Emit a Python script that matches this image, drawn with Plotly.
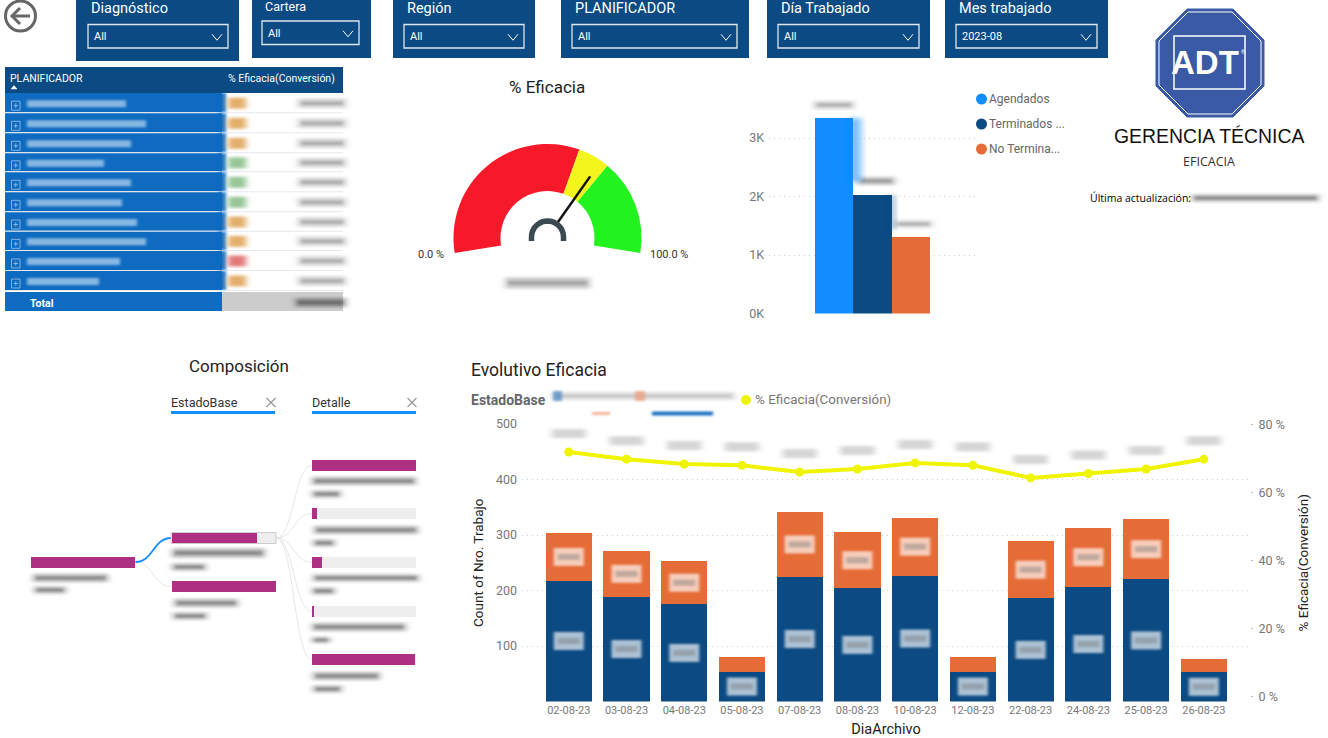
import math
import plotly.graph_objects as go

W, H = 1328, 738
FONT = "Roboto"
NAVY = "#0B4A82"
ORANGE = "#E66C37"
SKY = "#118DFF"
ROYAL = "#0F6BBF"
MAGENTA = "#AD3082"
YELLOW = "#EFF500"

# ---------- data ----------
days = ["02-08-23", "03-08-23", "04-08-23", "05-08-23", "07-08-23", "08-08-23",
        "10-08-23", "12-08-23", "22-08-23", "24-08-23", "25-08-23", "26-08-23"]
terminados = [218, 189, 175, 54, 225, 204, 227, 54, 186, 207, 220, 53]
no_terminados = [85, 82, 78, 27, 116, 101, 104, 27, 103, 106, 109, 23]
eficacia = [71.9, 69.8, 68.4, 68.0, 66.0, 66.9, 68.7, 68.0, 64.3, 65.6, 66.9, 69.8]

col_names = ["Agendados", "Terminados ...", "No Termina..."]
col_values = [3340, 2020, 1305]
col_ticks = [0, 1000, 2000, 3000]
col_ticktext = ["0K", "1K", "2K", "3K"]

gauge_bands = [60, 10, 30]
gauge_value = 67.5

tree_col0 = [100]
tree_col1 = [82, 100]
tree_col2 = [100, 5, 9.6, 1, 99]

table_status = ["o", "o", "o", "g", "g", "g", "o", "o", "r", "o"]
table_name_len = [100, 120, 105, 78, 105, 96, 111, 120, 94, 73]

filters = [("Diagnóstico", "All"), ("Cartera", "All"), ("Región", "All"),
           ("PLANIFICADOR", "All"), ("Día Trabajado", "All"), ("Mes trabajado", "2023-08")]

# ---------- helpers ----------
def X(p): return p / W
def Y(p): return 1 - p / H

shapes, notes = [], []

# Shape opacities carry a marker in their 4th decimal; the page script turns it into an SVG blur.
def soft(a, level=1):
    return round(a, 2) + {1: 0.0007, 2: 0.0003, 3: 0.0005}[level]

def rect(x0, y0, x1, y1, fill, line=None, lw=0, op=None):
    s = dict(type="rect", xref="paper", yref="paper", x0=X(x0), x1=X(x1), y0=Y(y0), y1=Y(y1),
             fillcolor=fill, line=dict(color=line or "rgba(0,0,0,0)", width=lw))
    if op is not None:
        s["opacity"] = op
    shapes.append(s)

def path(points, line=None, lw=1, fill=None, close=False):
    d = "M " + " L ".join(f"{X(a):.5f},{Y(b):.5f}" for a, b in points) + (" Z" if close else "")
    shapes.append(dict(type="path", xref="paper", yref="paper", path=d,
                       line=dict(color=line or "rgba(0,0,0,0)", width=lw),
                       fillcolor=fill or "rgba(0,0,0,0)"))

def curve(x0, y0, x1, y1, color="#E9E9E9", lw=1):
    mx = (x0 + x1) / 2
    d = (f"M {X(x0):.5f},{Y(y0):.5f} C {X(mx):.5f},{Y(y0):.5f} "
         f"{X(mx):.5f},{Y(y1):.5f} {X(x1):.5f},{Y(y1):.5f}")
    shapes.append(dict(type="path", xref="paper", yref="paper", path=d,
                       line=dict(color=color, width=lw)))

def text(x, y, s, size=12, color="#333", anchor="left", bold=False, font=FONT, angle=0):
    notes.append(dict(xref="paper", yref="paper", x=X(x), y=Y(y), text=f"<b>{s}</b>" if bold else s,
                      showarrow=False, xanchor=anchor, yanchor="middle", textangle=angle,
                      font=dict(family=font, size=size, color=color)))

def smear(x0, x1, yc, h=9, color="#707070", op=0.3):
    rect(x0, yc - h / 2, x1, yc + h / 2, color, op=soft(op))
    rect(x0 + 3, yc - h * 0.14, x1 - 3, yc + h * 0.14, color, op=soft(min(op * 1.3, 0.95), 2))

def chip(cat, val, yref):
    shapes.append(dict(type="rect", xref="x", yref=yref, xsizemode="pixel", ysizemode="pixel",
                       xanchor=cat, yanchor=val, x0=-15, x1=15, y0=-9, y1=9,
                       fillcolor="#FFFFFF", opacity=soft(0.66, 2), line=dict(width=0)))
    shapes.append(dict(type="rect", xref="x", yref=yref, xsizemode="pixel", ysizemode="pixel",
                       xanchor=cat, yanchor=val, x0=-11, x1=11, y0=-3, y1=3,
                       fillcolor="#777777", opacity=soft(0.42, 2), line=dict(width=0)))

fig = go.Figure()

# ---------- filter cards ----------
cards = [(76, 239, 61, 88, 228, 24.5, 48, 14.5),
         (252, 371, 58, 262, 359, 21, 44.5, 12.5),
         (393, 535, 58, 404, 524, 24.5, 48, 14.5),
         (561, 749, 58, 572, 737, 24.5, 48, 14.5),
         (767, 930, 58, 778, 919, 24.5, 48, 14.5),
         (945, 1108, 58, 956, 1097, 24.5, 48, 14.5)]
for (name, val), (x0, x1, b, bx0, bx1, by0, by1, fs) in zip(filters, cards):
    rect(x0, 0, x1, b, NAVY)
    rect(bx0, by0, bx1, by1, NAVY, "#DDE6F0", 1.3)
    text(bx0 + 1, by0 - 16 if fs > 13 else by0 - 14, name, fs, "#FFFFFF")
    text(bx0 + 4, (by0 + by1) / 2 + 0.5, val, 11, "#FFFFFF")
    cx, cy = bx1 - 11, (by0 + by1) / 2 + 1
    path([(cx - 5, cy - 3), (cx, cy + 3), (cx + 5, cy - 3)], "#FFFFFF", 1)

# back arrow
shapes.append(dict(type="circle", xref="paper", yref="paper", x0=X(5.5), x1=X(35.5), y0=Y(31), y1=Y(1),
                   line=dict(color="#666666", width=3), fillcolor="rgba(0,0,0,0)"))
path([(30, 16), (12, 16)], "#666666", 3)
path([(20, 8), (12, 16), (20, 24)], "#666666", 3)

# ---------- table ----------
rect(5, 67, 343, 93, NAVY)
text(8, 78, "PLANIFICADOR", 10.5, "#FFFFFF")
text(337, 78, "% Eficacia(Conversión)", 10.5, "#FFFFFF", anchor="right")
path([(11, 89), (14, 85.5), (17, 89)], "#FFFFFF", 0.5, "#FFFFFF", True)
row_edges = [93, 113.3, 133.3, 153.3, 172.3, 192.3, 212.3, 231.7, 251, 271, 291]
status_col = {"o": "#E0A65A", "g": "#8CBF8C", "r": "#E06A6A"}
for i, (st, ln) in enumerate(zip(table_status, table_name_len)):
    y0, y1 = row_edges[i], row_edges[i + 1]
    yc = (y0 + y1) / 2
    rect(5, y0, 222, y1 - 1, ROYAL)
    rect(218, y0, 226, y1 - 1, ROYAL, op=soft(0.9, 2))
    rect(5, y1 - 1, 343, y1, "#E4E8EE")
    rect(27, yc - 3, 26 + ln, yc + 4, "#D6E8FA", op=soft(0.6, 2))
    rect(228, yc - 5.5, 246, yc + 5.5, status_col[st], op=soft(0.9))
    smear(298, 346, yc, 9, "#777777", 0.35)
    rect(11.5, yc - 2, 20, yc + 7, "rgba(0,0,0,0)", "#9CC3E8", 0.8)
    path([(13.5, yc + 2.5), (18, yc + 2.5)], "#9CC3E8", 0.8)
    path([(15.75, yc + 0.2), (15.75, yc + 4.8)], "#9CC3E8", 0.8)
rect(5, 292, 222, 311, ROYAL)
rect(222, 292, 343, 311, "#CCCCCC")
text(28, 303, "Total", 10.5, "#FFFFFF", bold=True)
smear(295, 346, 302.5, 9, "#555555", 0.55)

# ---------- gauge ----------
text(547, 87, "% Eficacia", 17, "#222222", anchor="center")
GCX, GCY, GR = 547.5, 238.0, 94.0
SPAN = 198.4
hidden = 100 * (360 - SPAN) / SPAN
fig.add_trace(go.Pie(values=gauge_bands + [hidden], sort=False, direction="clockwise",
                     rotation=-SPAN / 2, hole=0.5, textinfo="none", hoverinfo="skip",
                     showlegend=False,
                     marker=dict(colors=["#F5192A", "#F5F51E", "#22F21E", "rgba(0,0,0,0)"],
                                 line=dict(width=0)),
                     domain=dict(x=[X(GCX - GR), X(GCX + GR)], y=[Y(GCY + GR), Y(GCY - GR)])))
ang = math.radians(-SPAN / 2 + SPAN * gauge_value / 100)
path([(GCX + 15 * math.sin(ang), GCY - 1 - 15 * math.cos(ang)),
      (GCX + 75 * math.sin(ang), GCY - 75 * math.cos(ang))], "#111111", 2.5)
hub = [(GCX - 16, GCY + 3)] + [(GCX + 16 * math.sin(math.radians(a)), GCY - 1 - 16 * math.cos(math.radians(a)))
       for a in range(-90, 91, 10)] + [(GCX + 16, GCY + 3)]
path(hub, "#3B4A52", 5.5)
text(431, 254, "0.0 %", 11, "#333333", anchor="center")
text(669, 254, "100.0 %", 11, "#333333", anchor="center")
smear(505, 590, 283, 11, "#777777", 0.4)

# ---------- three-bar chart ----------
cdom = (769, 976)
fig.add_trace(go.Bar(x=col_names, y=col_values, width=1, marker=dict(color=[SKY, NAVY, ORANGE], line=dict(width=0)),
                     xaxis="x2", yaxis="y3", showlegend=False, hoverinfo="skip"))
smear(814, 854, 105, 8, "#888888", 0.4)
smear(858, 895, 181, 8, "#777777", 0.45)
smear(895, 932, 224, 7, "#888888", 0.4)
rect(850, 118, 860, 182, SKY, op=soft(0.7, 3))
rect(888, 195, 894, 230, NAVY, op=soft(0.5, 3))
for (n, yy, c) in zip(col_names, [99, 124, 149], [SKY, NAVY, ORANGE]):
    shapes.append(dict(type="circle", xref="paper", yref="paper", x0=X(976), x1=X(987), y0=Y(yy + 5.5),
                       y1=Y(yy - 5.5), fillcolor=c, line=dict(width=0)))
    text(987, yy, n, 12, "#666666")

# ---------- logo ----------
LOGO = "#3A5AA6"
def octagon(x0, x1, y0, y1, cut):
    return [(x0 + cut, y0), (x1 - cut, y0), (x1, y0 + cut), (x1, y1 - cut),
            (x1 - cut, y1), (x0 + cut, y1), (x0, y1 - cut), (x0, y0 + cut)]
path(octagon(1156, 1264, 9, 117, 31), LOGO, 1, LOGO, True)
path(octagon(1159, 1261, 12, 114, 29), "#FFFFFF", 1, LOGO, True)
rect(1174, 36, 1245, 89, "rgba(0,0,0,0)", "#FFFFFF", 1.5)
text(1205, 62, "ADT", 33, "#FFFFFF", anchor="center", bold=True, font="Liberation Sans")
text(1243, 52, "®", 5, "#FFFFFF", anchor="center")
text(1209, 136, "GERENCIA TÉCNICA", 19.4, "#111111", anchor="center", font="Liberation Sans")
text(1209, 162, "EFICACIA", 12.5, "#333333", anchor="center", font="Open Sans")
text(1087.5, 198, "Última actualización:", 10.5, "#000000", font="Open Sans")
smear(1192, 1319, 198, 7, "#666666", 0.5)

# ---------- decomposition tree ----------
text(238.5, 366, "Composición", 17, "#222222", anchor="center")
for x0, x1, name in [(171, 275, "EstadoBase"), (312, 416, "Detalle")]:
    text(x0 - 2, 402, name, 12.5, "#333333", bold=False)
    rect(x0, 411, x1, 414, SKY)
    xc = x1 - 4
    path([(xc - 4.5, 398), (xc + 4.5, 407)], "#999999", 1.2)
    path([(xc - 4.5, 407), (xc + 4.5, 398)], "#999999", 1.2)

c1_y = [538, 586.5]
c2_y = [465.5, 513.5, 562.5, 611.5, 659.5]
curve(135.5, 562, 171, c1_y[1], "#E6E6E6", 1)
curve(135.5, 562, 171, c1_y[0], SKY, 1.8)
for yy in c2_y:
    curve(276, 538, 312, yy, "#E6E6E6", 1)

def tree_bar(values, ys, left, width=104.0):
    fig.add_trace(go.Bar(y=ys, x=[width] * len(ys), base=left, orientation="h", width=11,
                         marker=dict(color="#EEEEEE", line=dict(width=0)),
                         xaxis="x3", yaxis="y4", showlegend=False, hoverinfo="skip"))
    fig.add_trace(go.Bar(y=ys, x=[v * width / 100 for v in values], base=left, orientation="h", width=11,
                         marker=dict(color=MAGENTA, line=dict(width=0)),
                         xaxis="x3", yaxis="y4", showlegend=False, hoverinfo="skip"))

tree_bar(tree_col0, [562.5], 31)
tree_bar(tree_col1, c1_y, 171.5)
tree_bar(tree_col2, c2_y, 312)
rect(171, 532.5, 276, 543.5, "rgba(0,0,0,0)", "#CCCCCC", 1)
for a, b, yy, h in [(33, 108, 578, 8), (34, 66, 590, 7),
                    (172, 265, 553, 9), (172, 206, 567, 7),
                    (174, 238, 603, 8), (173, 207, 616, 7),
                    (312, 416, 481, 8), (312, 341, 494, 7),
                    (314, 418, 530, 8), (313, 335, 543, 7),
                    (313, 419, 578, 7), (312, 335, 591, 7),
                    (312, 406, 627, 8), (312, 330, 640, 6),
                    (313, 380, 676, 8), (313, 342, 689, 7)]:
    smear(a, b, yy, h, "#666666", 0.5)

# ---------- evolution chart ----------
text(468.5, 400, "EstadoBase", 14, "#666666", bold=True)
text(468.5, 370, "Evolutivo Eficacia", 17.5, "#222222")
smear(552, 735, 396, 8, "#AAAAAA", 0.4)
rect(553, 391, 562, 401, "#4B86C5", op=soft(0.7, 2))
rect(635, 391, 645, 401, "#EE9A78", op=soft(0.7, 2))
rect(592, 412, 610, 415, "#E66C37", op=soft(0.5, 2))
rect(652, 411.5, 713, 415.5, "#0F6BBF", op=soft(0.95, 2))
shapes.append(dict(type="circle", xref="paper", yref="paper", x0=X(741), x1=X(751), y0=Y(405), y1=Y(395),
                   fillcolor=YELLOW, line=dict(width=0)))
text(752.5, 400, "% Eficacia(Conversión)", 13.4, "#777777")

fig.add_trace(go.Bar(name="Terminados", x=days, y=terminados, width=0.8,
                     marker=dict(color=NAVY, line=dict(width=0)), showlegend=False, hoverinfo="skip"))
fig.add_trace(go.Bar(name="No Terminados", x=days, y=no_terminados, width=0.8,
                     marker=dict(color=ORANGE, line=dict(width=0)), showlegend=False, hoverinfo="skip"))
fig.add_trace(go.Scatter(name="% Eficacia(Conversión)", x=days, y=eficacia, yaxis="y2", mode="lines+markers",
                         line=dict(color=YELLOW, width=4), marker=dict(color=YELLOW, size=9),
                         showlegend=False, hoverinfo="skip"))
for d, t, n, e in zip(days, terminados, no_terminados, eficacia):
    chip(d, t / 2, "y")
    if n > 50:
        chip(d, t + n / 2, "y")
    shapes.append(dict(type="rect", xref="x", yref="y2", xsizemode="pixel", ysizemode="pixel",
                       xanchor=d, yanchor=e, x0=-17, x1=17, y0=14, y1=23,
                       fillcolor="#888888", opacity=soft(0.35), line=dict(width=0)))

# ---------- layout ----------
grid = dict(showgrid=True, gridcolor="#CFCFCF", griddash="1px,4px", gridwidth=1)
tick = dict(family=FONT, size=12.5, color="#777777")
fig.update_layout(
    width=W, height=H, margin=dict(l=0, r=0, t=0, b=0), paper_bgcolor="#FFFFFF", plot_bgcolor="rgba(0,0,0,0)",
    barmode="stack", showlegend=False, shapes=shapes, annotations=notes,
    xaxis=dict(domain=[X(522), X(1250)], type="category", categoryorder="array", categoryarray=days,
               range=[-0.81, 11.8], showgrid=False, zeroline=False, showline=False, ticks="", automargin=False,
               tickfont=dict(family=FONT, size=11, color="#777777"), tickangle=0,
               title=dict(text="DiaArchivo", font=dict(family=FONT, size=14.5, color="#222222"), standoff=10),
               anchor="y"),
    yaxis=dict(domain=[Y(701.5), Y(424)], range=[0, 500], tickvals=[100, 200, 300, 400, 500], zeroline=False,
               showline=False, ticks="", tickfont=tick, anchor="x", ticklabelstandoff=4, automargin=False,
               title=dict(text="Count of Nro. Trabajo", font=dict(family=FONT, size=13.5, color="#222222"), standoff=9),
               **grid),
    yaxis2=dict(overlaying="y", side="right", range=[-1.47, 80.15], tickvals=[0, 20, 40, 60, 80],
                ticktext=["0 %", "20 %", "40 %", "60 %", "80 %"], showgrid=False, zeroline=False, showline=False,
                ticks="outside", ticklen=2, tickcolor="#BBBBBB", tickfont=tick, anchor="x", automargin=False,
                ticklabelstandoff=3,
                title=dict(text="% Eficacia(Conversión)", font=dict(family=FONT, size=13.5, color="#222222"), standoff=14)),
    xaxis2=dict(domain=[X(cdom[0]), X(cdom[1])], type="category", range=[-1.69, 3.69], showticklabels=False,
                showgrid=False, zeroline=False, showline=False, ticks="", anchor="y3", automargin=False),
    yaxis3=dict(domain=[Y(313.5), Y(100)], range=[0, 3650], tickvals=col_ticks, ticktext=col_ticktext,
                zeroline=False, showline=False, ticks="", tickfont=tick, anchor="x2", ticklabelstandoff=4,
                automargin=False, **grid),
    xaxis3=dict(domain=[0, X(450)], range=[0, 450], visible=False, anchor="y4", automargin=False),
    yaxis4=dict(domain=[Y(738), Y(350)], range=[738, 350], visible=False, anchor="x3", automargin=False),
)

BLUR_JS = """
document.body.style.margin='0';document.body.style.overflow='hidden';
(function(){
  var svg=document.querySelector('svg.main-svg');
  var ns='http://www.w3.org/2000/svg';
  var defs=document.createElementNS(ns,'defs');
  [['softA','3 1.6'],['softB','1.6 1.2'],['softC','4 2']].forEach(function(f){
    var el=document.createElementNS(ns,'filter');
    el.setAttribute('id',f[0]);el.setAttribute('x','-60%');el.setAttribute('y','-300%');
    el.setAttribute('width','220%');el.setAttribute('height','700%');
    var b=document.createElementNS(ns,'feGaussianBlur');b.setAttribute('stdDeviation',f[1]);
    el.appendChild(b);defs.appendChild(el);
  });
  svg.insertBefore(defs,svg.firstChild);
  var map={7:'softA',3:'softB',5:'softC'};
  document.querySelectorAll('.shapelayer path').forEach(function(p){
    var o=parseFloat(p.style.opacity);
    if(isNaN(o))return;
    var k=Math.round(o*10000)%100;
    if(map[k]){p.setAttribute('filter','url(#'+map[k]+')');}
  });
})();
"""
fig.write_html("out.html", config=dict(displayModeBar=False), post_script=BLUR_JS)
